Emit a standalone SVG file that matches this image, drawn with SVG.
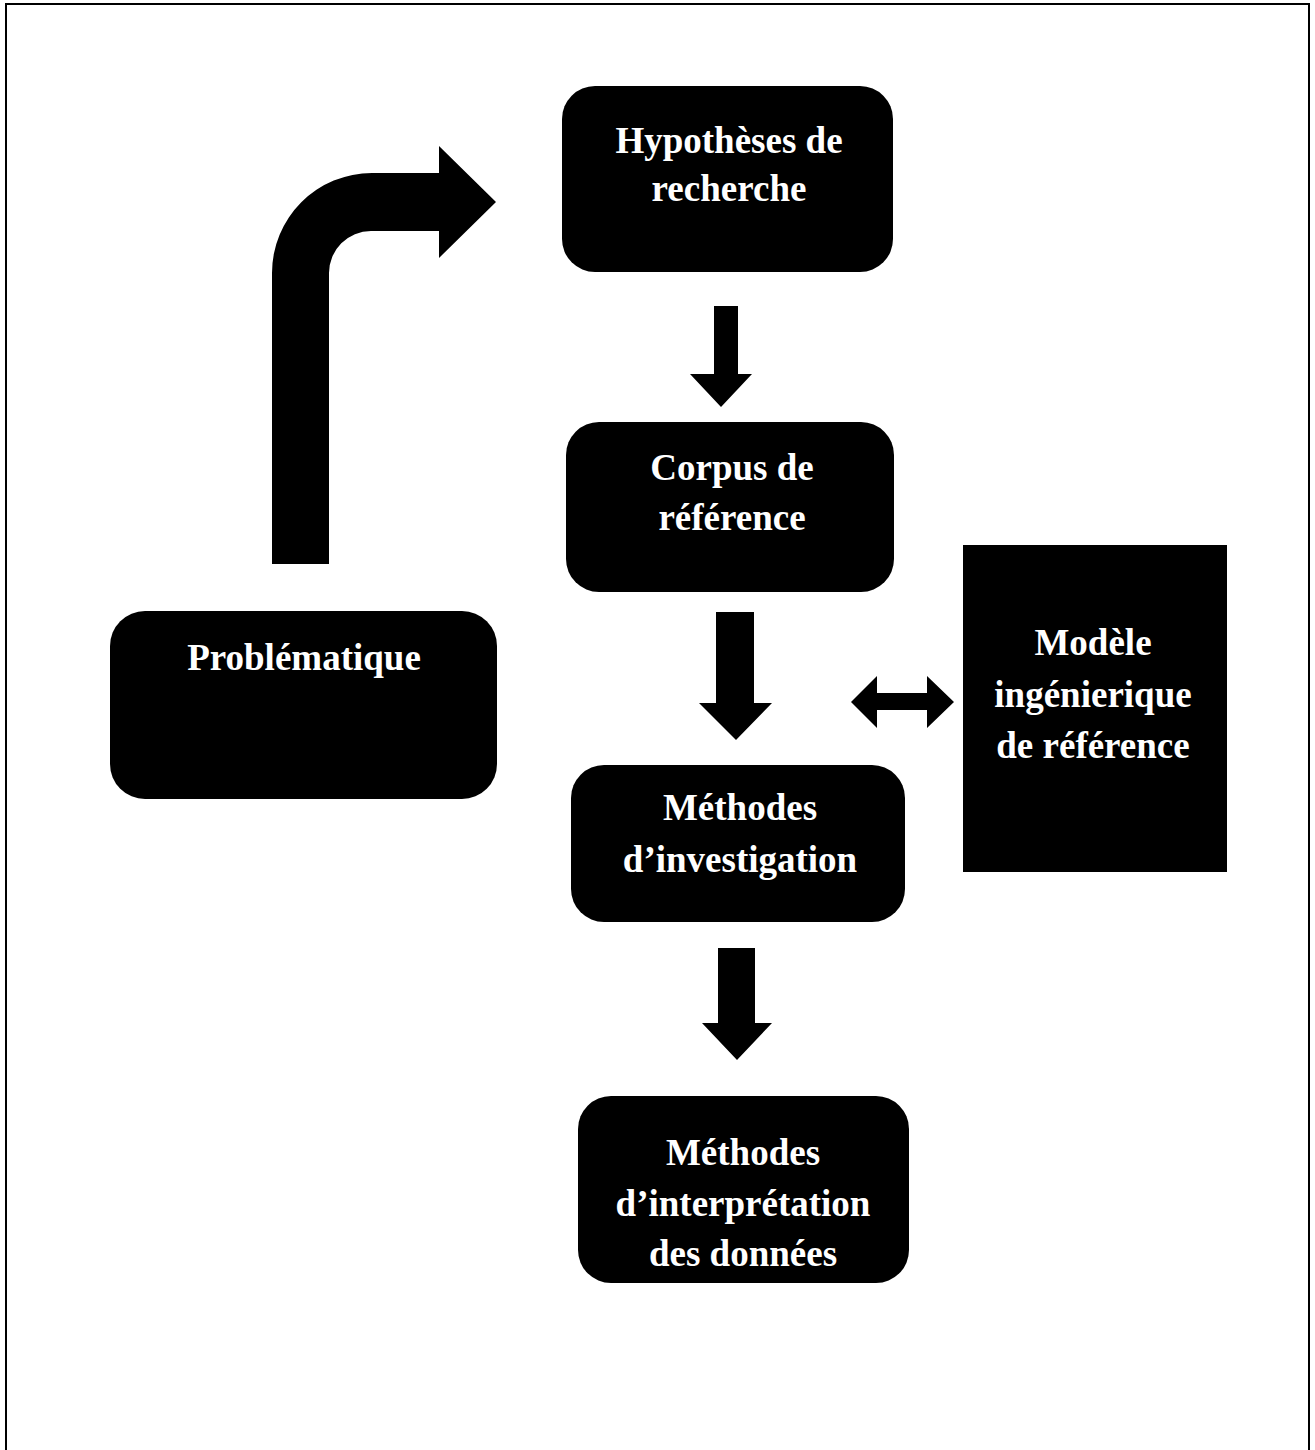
<svg xmlns="http://www.w3.org/2000/svg" width="1315" height="1450" viewBox="0 0 1315 1450">
<style>
.box{fill:#000}
.lbl{font-family:"Liberation Serif","Times New Roman",serif;font-weight:bold;font-size:37px;fill:#fff;text-anchor:middle}
.arr{fill:#000}
</style>
<rect x="0" y="0" width="1315" height="1450" fill="#fff"/>
<rect x="6" y="4" width="1303" height="1470" fill="none" stroke="#000" stroke-width="2"/>
<g id="connectors">
<path class="arr" d="M272,564 L272,273 A100,100 0 0 1 372,173 L439,173 L439,146 L496,202 L439,258 L439,231 L371,231 A42,42 0 0 0 329,273 L329,564 Z"/>
<path class="arr" d="M714,306 L738,306 L738,374 L752,374 L721,407 L690,374 L714,374 Z"/>
<path class="arr" d="M716,612 L754,612 L754,703 L772,703 L736,740 L699,703 L716,703 Z"/>
<path class="arr" d="M718,948 L755,948 L755,1023 L772,1023 L737,1060 L702,1023 L718,1023 Z"/>
<path class="arr" d="M851,702 L877,676 L877,693 L927,693 L927,676 L954,702 L927,728 L927,710 L877,710 L877,728 Z"/>
</g>
<g id="hypotheses">
<rect class="box" x="562" y="86" width="331" height="186" rx="33"/>
<text class="lbl" x="729" y="153">Hypothèses de</text>
<text class="lbl" x="729" y="201">recherche</text>
</g>
<g id="corpus">
<rect class="box" x="566" y="422" width="328" height="170" rx="33"/>
<text class="lbl" x="732" y="480">Corpus de</text>
<text class="lbl" x="732" y="530">référence</text>
</g>
<g id="investigation">
<rect class="box" x="571" y="765" width="334" height="157" rx="33"/>
<text class="lbl" x="740" y="820">Méthodes</text>
<text class="lbl" x="740" y="872">d’investigation</text>
</g>
<g id="interpretation">
<rect class="box" x="578" y="1096" width="331" height="187" rx="33"/>
<text class="lbl" x="743" y="1165">Méthodes</text>
<text class="lbl" x="743" y="1216">d’interprétation</text>
<text class="lbl" x="743" y="1266">des données</text>
</g>
<g id="problematique">
<rect class="box" x="110" y="611" width="387" height="188" rx="35"/>
<text class="lbl" x="304" y="670">Problématique</text>
</g>
<g id="modele">
<rect class="box" x="963" y="545" width="264" height="327"/>
<text class="lbl" x="1093" y="655">Modèle</text>
<text class="lbl" x="1093" y="707">ingénierique</text>
<text class="lbl" x="1093" y="758">de référence</text>
</g>
</svg>
